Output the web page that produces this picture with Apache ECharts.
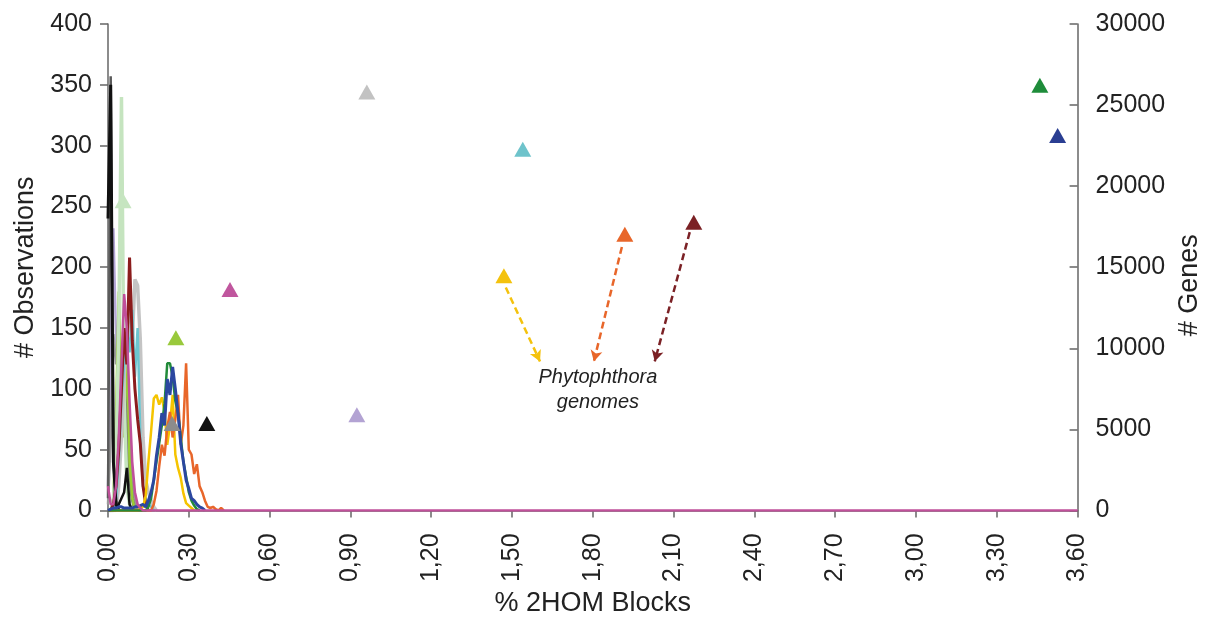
<!DOCTYPE html>
<html>
<head>
<meta charset="utf-8">
<script src="https://cdn.jsdelivr.net/npm/echarts@6/dist/echarts.min.js"></script>
<style>html,body{margin:0;padding:0;background:#fff}#c{width:1211px;height:622px}</style>
</head>
<body>
<div id="c"></div>
<script>
// bins of % 2HOM blocks (x)
const bins = [0.00,0.01,0.02,0.03,0.04,0.05,0.06,0.07,0.08,0.09,0.10,0.11,0.12,0.13,0.14,0.15,0.16,0.17,0.18,0.19,0.20,0.21,0.22,0.23,0.24,0.25,0.26,0.27,0.28,0.29,0.30,0.31,0.32,0.33,0.34,0.35,0.36,0.37,0.38,0.39,0.40,0.41,0.42,0.43];
const xTickLabels = ['0,00','0,30','0,60','0,90','1,20','1,50','1,80','2,10','2,40','2,70','3,00','3,30','3,60'];

// # observations per bin (starting at bin 0.00)
const lavenderObs   = [20,130,232,140,95,70,110,120,70,30,10,0];
const grayObs       = [5,60,145,120,150,95,110,90,60,30,10,0];
const medGrayObs    = [0,0,0,10,40,80,100,70,30,10,0];
const yellowGreenObs= [0,0,10,80,180,100,60,140,40,10,0];
const paleGreenObs  = [0,0,10,40,150,340,90,20,5,0];
const lightGrayObs  = [0,0,0,0,20,60,110,150,170,140,190,185,140,60,25,15,8,3,0];
const cyanObs       = [0,0,0,10,40,90,120,150,130,165,110,150,60,20,10,5,3,0];
const darkRedObs    = [0,0,5,20,50,100,150,120,208,140,100,75,55,20,5,0];
const darkGrayObs   = [10,357,40,8,0];
const blackObs      = [240,350,40,5,0];
const blackSmallObs = [0,0,0,0,5,10,15,35,5,0];
const yellowObs     = [0,0,0,0,0,0,0,0,0,0,0,0,2,3,12,40,65,92,95,87,93,81,54,70,95,46,35,27,14,6,4,2,0];
const orangeObs     = [0,0,0,0,0,0,0,0,0,0,0,0,0,0,0,0,0,5,16,36,54,45,68,81,60,75,95,54,70,121,50,46,30,38,20,15,8,3,2,3,1,0,2,0];
const greenObs      = [0,0,0,0,0,0,0,0,0,0,0,0,0,0,0,3,10,25,40,55,70,88,121,121,110,90,80,60,40,28,15,8,4,1,0];
const blueObs       = [0,1,2,2,3,3,2,2,2,2,3,3,4,5,3,8,15,25,45,60,80,70,108,95,118,100,80,55,40,25,18,10,8,5,3,2,0];
const magentaObs    = [20,5,5,20,60,120,178,150,90,40,15,5,2,0];
const magentaEnd    = [3.60, 0];

// genomes: % 2HOM blocks vs # genes (secondary axis)
const genomeX     = [0.056, 0.252, 0.238, 0.367, 0.453, 0.924, 0.961, 1.540, 1.470, 1.919, 2.175, 3.460, 3.526];
const genomeGenes = [19100, 10650, 5355, 5355, 13630, 5900, 25800, 22270, 14480, 17040, 17770, 26230, 23120];
const genomeColors= ['#c6e5c0','#99c93c','#8c8c8c','#111111','#c0569e','#b3a3d3','#c2c2c2','#6ec3cb','#f4c20d','#e8662a','#7b2125','#1e8c3a','#2a3e92'];

// annotation arrows (from genome triangle to label)
const arrowFrom = [[1.477,13750],[1.908,16250],[2.160,17160]];
const arrowTo   = [[1.604,9190],[1.804,9190],[2.030,9190]];
const arrowColors = ['#f4c20d','#e8662a','#7b2125'];
const labelPos = [1.819, 7424];

function pairs(arr){ return arr.map((v,i)=>[bins[i], v]); }
function lineSeries(arr, color, width){
  return {type:'line', data:pairs(arr), showSymbol:false, symbol:'none', animation:false,
    lineStyle:{color:color, width:width||2.5}, itemStyle:{color:color}, z:2};
}

const FONT = 'Liberation Sans, Arial, sans-serif';
const chart = echarts.init(document.getElementById('c'));
const series = [
  lineSeries(lavenderObs,'#b4a7d6',2.5),
  lineSeries(grayObs,'#9a9a9a',2.5),
  lineSeries(medGrayObs,'#7a7a7a',3.5),
  lineSeries(yellowGreenObs,'#9acd32',2.5),
  lineSeries(paleGreenObs,'#c5e4bf',3.5),
  lineSeries(lightGrayObs,'#c4c4c4',3.5),
  lineSeries(cyanObs,'#6cc5cf',2.5),
  lineSeries(darkRedObs,'#8b1c1c',3),
  lineSeries(darkGrayObs,'#5a5a5a',2.5),
  lineSeries(blackObs,'#111111',3),
  lineSeries(blackSmallObs,'#111111',2.5),
  lineSeries(yellowObs,'#f5c400',2.5),
  lineSeries(orangeObs,'#e8662a',2.5),
  lineSeries(greenObs,'#228b3a',2.5),
  lineSeries(blueObs,'#2b47a0',3),
  (function(){ const s = lineSeries(magentaObs,'#c0509a',2.5); s.data = s.data.concat([magentaEnd]); s.z = 3; return s; })(),
  {
    type:'scatter', yAxisIndex:1, symbol:'triangle', symbolSize:[17,15], animation:false, z:5,
    data: genomeX.map((x,i)=>({value:[x, genomeGenes[i]], itemStyle:{color:genomeColors[i], opacity:1}})),
    itemStyle:{opacity:1},
    markLine:{
      silent:true, animation:false, symbol:['none','arrow'], symbolSize:[9,11],
      label:{show:false},
      data: arrowFrom.map((f,i)=>[
        {coord:f, lineStyle:{color:arrowColors[i], width:2.5, type:[7,4]}},
        {coord:arrowTo[i]}
      ])
    },
    markPoint:{
      silent:true, animation:false, symbol:'rect', symbolSize:1, itemStyle:{color:'rgba(0,0,0,0)'},
      label:{show:true, position:'inside', formatter:'Phytophthora\ngenomes', color:'#222',
        fontFamily:FONT, fontStyle:'italic', fontSize:20, lineHeight:25, align:'center', verticalAlign:'middle'},
      data:[{coord:labelPos}]
    }
  }
];

chart.setOption({
  animation:false,
  backgroundColor:'#fff',
  grid:{left:108, right:131, top:24, bottom:105},
  xAxis:{
    type:'value', min:0, max:3.6, interval:0.3,
    name:'% 2HOM Blocks', nameLocation:'middle', nameGap:76,
    nameTextStyle:{fontFamily:FONT, fontSize:27, color:'#222'},
    axisLine:{onZero:false, lineStyle:{color:'#666', width:1.5}},
    axisTick:{show:true, length:7, lineStyle:{color:'#666', width:1.5}},
    axisLabel:{rotate:90, margin:23, fontFamily:FONT, fontSize:25, color:'#222',
      formatter:(v)=>{ const i = Math.round(v/0.3); return xTickLabels[i] || ''; }},
    splitLine:{show:false}
  },
  yAxis:[
    {
      type:'value', min:0, max:400, interval:50,
      name:'# Observations', nameLocation:'middle', nameGap:64, nameRotate:90,
      nameTextStyle:{fontFamily:FONT, fontSize:27, color:'#222'},
      axisLine:{show:true, lineStyle:{color:'#666', width:1.5}},
      axisTick:{show:true, length:8, lineStyle:{color:'#666', width:1.5}},
      axisLabel:{margin:16, fontFamily:FONT, fontSize:25, color:'#222'},
      splitLine:{show:false}
    },
    {
      type:'value', min:0, max:30000, interval:5000, position:'right',
      name:'# Genes', nameLocation:'middle', nameGap:98, nameRotate:90,
      nameTextStyle:{fontFamily:FONT, fontSize:27, color:'#222', padding:[0,0,0,-36]},
      axisLine:{show:true, lineStyle:{color:'#666', width:1.5}},
      axisTick:{show:true, inside:true, length:8, lineStyle:{color:'#666', width:1.5}},
      axisLabel:{margin:18, fontFamily:FONT, fontSize:25, color:'#222', formatter:(v)=>String(v)},
      splitLine:{show:false}
    }
  ],
  series: series
});
</script>
</body>
</html>
